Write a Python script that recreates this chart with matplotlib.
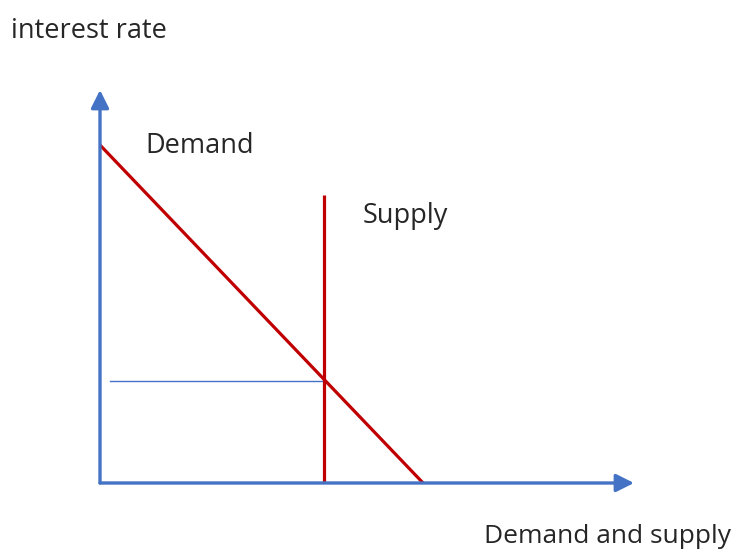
import matplotlib
matplotlib.use("Agg")
import matplotlib.pyplot as plt

# Data (abstract units: quantity 0..100, interest rate 0..100)
demand_q = [0, 60.5]
demand_r = [86, 0]
supply_q = [42, 42]
supply_r = [0, 73.3]
equilibrium_r = [26, 26]
equilibrium_q = [1.9, 42]
axis_max = 100

BLUE = "#4472C4"
RED = "#C00000"
W, H = 743, 551

plt.rcParams['font.family'] = ['Open Sans', 'DejaVu Sans']

fig = plt.figure(figsize=(W / 100, H / 100), dpi=100)
ax = fig.add_axes([100 / W, 68 / H, 534 / W, 393 / H])
ax.set_xlim(0, axis_max)
ax.set_ylim(0, axis_max)
ax.axis('off')

arrow_style = '-|>,head_length=0.9,head_width=0.45'
# axes with arrows
ax.annotate('', xy=(axis_max, 0), xytext=(0, 0),
            arrowprops=dict(arrowstyle=arrow_style, lw=2.4,
                            color=BLUE, shrinkA=0, shrinkB=0, mutation_scale=12),
            annotation_clip=False)
ax.annotate('', xy=(0, axis_max), xytext=(0, 0),
            arrowprops=dict(arrowstyle=arrow_style, lw=2.4,
                            color=BLUE, shrinkA=0, shrinkB=0, mutation_scale=12),
            annotation_clip=False)

ax.plot(equilibrium_q, equilibrium_r, color=BLUE, lw=1.0, clip_on=False)
ax.plot(demand_q, demand_r, color=RED, lw=2.3, clip_on=False, solid_capstyle='butt')
ax.plot(supply_q, supply_r, color=RED, lw=2.3, clip_on=False, solid_capstyle='butt')

fs = 19.5
tc = '#262626'
fig.text(11 / W, 1 - 38 / H, 'interest rate', fontsize=fs, color=tc, ha='left', va='baseline')
fig.text(145 / W, 1 - 153 / H, 'Demand', fontsize=fs, color=tc, ha='left', va='baseline')
fig.text(363 / W, 1 - 223 / H, 'Supply', fontsize=fs, color=tc, ha='left', va='baseline')
fig.text(484 / W, 1 - 543 / H, 'Demand and supply', fontsize=19, color=tc, ha='left', va='baseline')

fig.savefig('out.png', dpi=100)
